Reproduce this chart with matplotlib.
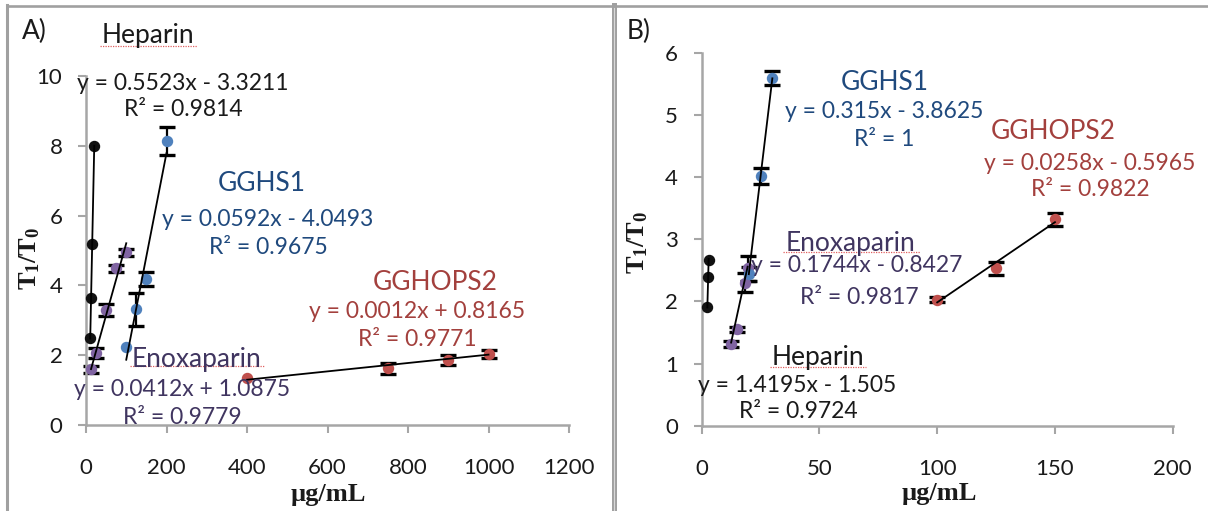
import matplotlib
matplotlib.use('Agg')
import matplotlib.pyplot as plt
import numpy as np
from matplotlib.lines import Line2D

plt.rcParams['font.family'] = ['Lato', 'DejaVu Sans']
plt.rcParams['mathtext.fontset'] = 'custom'
plt.rcParams['mathtext.rm'] = 'Liberation Serif'
plt.rcParams['mathtext.bf'] = 'Liberation Serif:bold'

# ---------------- data: panel A ----------------
hepA_x = [10.5, 12.5, 15.5, 20.5]
hepA_y = [2.5, 3.65, 5.2, 8.0]
hepA_err = [0, 0, 0, 0]
ggA_x = [100, 125, 150, 200]
ggA_y = [2.24, 3.32, 4.18, 8.14]
ggA_err = [0, 0.47, 0.2, 0.4]
enoA_x = [12.5, 25, 50, 75, 100]
enoA_y = [1.6, 2.07, 3.3, 4.49, 4.95]
enoA_err = [0.1, 0.15, 0.18, 0.1, 0.1]
gopA_x = [400, 750, 900, 1000]
gopA_y = [1.34, 1.62, 1.86, 2.03]
gopA_err = [0, 0.15, 0.15, 0.12]
fitA = {'hep': (0.5523, -3.3211), 'gg': (0.0592, -4.0493),
        'eno': (0.0412, 1.0875), 'gop': (0.0012, 0.8165)}
xticksA = [0, 200, 400, 600, 800, 1000, 1200]
yticksA = [0, 2, 4, 6, 8, 10]

# ---------------- data: panel B ----------------
hepB_x = [2.4, 2.75, 2.95]
hepB_y = [1.91, 2.39, 2.66]
hepB_err = [0, 0, 0]
ggB_x = [20, 25, 30]
ggB_y = [2.44, 4.01, 5.59]
ggB_err = [0.12, 0.13, 0.11]
enoB_x = [12.5, 15, 18.5, 19.5]
enoB_y = [1.32, 1.55, 2.30, 2.53]
enoB_err = [0.05, 0.04, 0.15, 0.2]
gopB_x = [100, 125, 150]
gopB_y = [2.03, 2.53, 3.32]
gopB_err = [0.04, 0.1, 0.1]
fitB = {'hep': (1.4195, -1.505), 'gg': (0.315, -3.8625),
        'eno': (0.1744, -0.8427), 'gop': (0.0258, -0.5965)}
xticksB = [0, 50, 100, 150, 200]
yticksB = [0, 1, 2, 3, 4, 5, 6]

# ---------------- styles ----------------
C_BLUE = '#4F81BD'
C_RED = '#C0504D'
C_PURP = '#8064A2'
C_BLACK = '#111111'
T_BLUE = '#1F497D'
T_RED = '#A3403D'
T_PURP = '#403560'
T_BLACK = '#1a1a1a'
GRID = '#A6A6A6'

W, H = 1208, 511
fig = plt.figure(figsize=(W / 100, H / 100), dpi=100)


def rect(x0, x1, yb, yt):
    return [x0 / W, 1 - yb / H, (x1 - x0) / W, (yb - yt) / H]


axA = fig.add_axes(rect(86, 569, 425, 76))
axB = fig.add_axes(rect(701.7, 1172.7, 425.7, 52.7))


def series(ax, x, y, err, col, fit):
    xe = [a for a, e in zip(x, err) if e > 0]
    ye = [b for b, e in zip(y, err) if e > 0]
    ee = [e for e in err if e > 0]
    if ee:
        ax.errorbar(xe, ye, yerr=ee, fmt='none', ecolor='black',
                    elinewidth=1.6, capsize=5.5, capthick=2.4, zorder=2,
                    clip_on=False)
    ax.plot(x, y, 'o', color=col, ms=7.2, mec=col, zorder=3, clip_on=False)
    xs = np.array([min(x), max(x)])
    ax.plot(xs, fit[0] * xs + fit[1], color='black', lw=1.3, zorder=4,
            clip_on=False)


def style(ax, xt, yt, xmax, ymax):
    ax.set_xlim(0, xmax)
    ax.set_ylim(0, ymax)
    ax.set_xticks(xt)
    ax.set_yticks(yt)
    for s in ['top', 'right']:
        ax.spines[s].set_visible(False)
    for s in ['left', 'bottom']:
        ax.spines[s].set_color(GRID)
        ax.spines[s].set_linewidth(1.8)
    ax.tick_params(axis='both', direction='out', length=6, width=1.5,
                   color=GRID, labelsize=16, labelcolor='#1a1a1a')
    ax.tick_params(axis='x', pad=18)
    ax.tick_params(axis='y', pad=11)
    ax.patch.set_alpha(0)


series(axA, hepA_x, hepA_y, hepA_err, C_BLACK, fitA['hep'])
series(axA, enoA_x, enoA_y, enoA_err, C_PURP, fitA['eno'])
series(axA, ggA_x, ggA_y, ggA_err, C_BLUE, fitA['gg'])
series(axA, gopA_x, gopA_y, gopA_err, C_RED, fitA['gop'])
style(axA, xticksA, yticksA, 1200, 10)

series(axB, hepB_x, hepB_y, hepB_err, C_BLACK, fitB['hep'])
series(axB, enoB_x, enoB_y, enoB_err, C_PURP, fitB['eno'])
series(axB, ggB_x, ggB_y, ggB_err, C_BLUE, fitB['gg'])
series(axB, gopB_x, gopB_y, gopB_err, C_RED, fitB['gop'])
style(axB, xticksB, yticksB, 200, 6)


def ftext(x, y, s, size=16.5, color=T_BLACK, **kw):
    fig.text(x / W, 1 - y / H, s, ha='center', va='center', fontsize=size,
             color=color, **kw)


def squiggle(x0, x1, y):
    fig.add_artist(Line2D([x0 / W, x1 / W], [1 - y / H, 1 - y / H],
                          color='#E06060', lw=0.9, ls=(0, (1, 1))))


LBL = 19
# panel A annotations
ftext(34, 31, 'A)', size=LBL)
ftext(148, 36, 'Heparin', size=LBL)
squiggle(100, 197, 46)
ftext(183, 83, 'y = 0.5523x - 3.3211')
ftext(183, 110, 'R² = 0.9814')
ftext(262, 183, 'GGHS1', size=LBL, color=T_BLUE)
ftext(268, 219, 'y = 0.0592x - 4.0493', color=T_BLUE)
ftext(268, 248, 'R² = 0.9675', color=T_BLUE)
ftext(435, 282, 'GGHOPS2', size=LBL, color=T_RED)
ftext(417, 312, 'y = 0.0012x + 0.8165', color=T_RED)
ftext(417, 340, 'R² = 0.9771', color=T_RED)
ftext(197, 359, 'Enoxaparin', size=LBL, color=T_PURP)
squiggle(130, 265, 366)
ftext(182, 390, 'y = 0.0412x + 1.0875', color=T_PURP)
ftext(182, 418, 'R² = 0.9779', color=T_PURP)

# panel B annotations
ftext(639, 31, 'B)', size=LBL)
ftext(885, 82, 'GGHS1', size=LBL, color=T_BLUE)
ftext(884, 112, 'y = 0.315x - 3.8625', color=T_BLUE)
ftext(884, 140, 'R² = 1', color=T_BLUE)
ftext(1053, 131, 'GGHOPS2', size=LBL, color=T_RED)
ftext(1090, 163, 'y = 0.0258x - 0.5965', color=T_RED)
ftext(1090, 189, 'R² = 0.9822', color=T_RED)
ftext(851, 243, 'Enoxaparin', size=LBL, color=T_PURP)
squiggle(783, 920, 252)
ftext(857, 266, 'y = 0.1744x - 0.8427', color=T_PURP)
ftext(859, 297, 'R² = 0.9817', color=T_PURP)
ftext(818, 357, 'Heparin', size=LBL)
squiggle(770, 866, 367)
ftext(797, 385, 'y = 1.4195x - 1.505')
ftext(798, 412, 'R² = 0.9724')

# axis titles
ylab = r'$\mathbf{T_1/T_0}$'
fig.text(29 / W, 1 - 258 / H, ylab, rotation=90, ha='center', va='center',
         fontsize=19, color='#1a1a1a')
fig.text(638 / W, 1 - 242 / H, ylab, rotation=90, ha='center', va='center',
         fontsize=19, color='#1a1a1a')
fig.text(328 / W, 1 - 494 / H, 'µg/mL', ha='center', va='center',
         fontsize=19, fontweight='bold', family='Liberation Serif',
         color='#1a1a1a')
fig.text(939 / W, 1 - 493 / H, 'µg/mL', ha='center', va='center',
         fontsize=19, fontweight='bold', family='Liberation Serif',
         color='#1a1a1a')

# panel frames
BORDER = '#A0A0A0'
fig.add_artist(Line2D([7 / W, 1], [1 - 6 / H, 1 - 6 / H], color=BORDER, lw=1.9))
fig.add_artist(Line2D([7.5 / W, 7.5 / W], [0, 1 - 5 / H], color=BORDER, lw=2.2))
fig.add_artist(Line2D([613.5 / W, 613.5 / W], [0, 1 - 5 / H], color=BORDER, lw=3.6))
fig.add_artist(Line2D([613.5 / W, 613.5 / W], [0, 1 - 8 / H], color='#D8D8D8', lw=0.8))

fig.savefig('out.png', dpi=100)
